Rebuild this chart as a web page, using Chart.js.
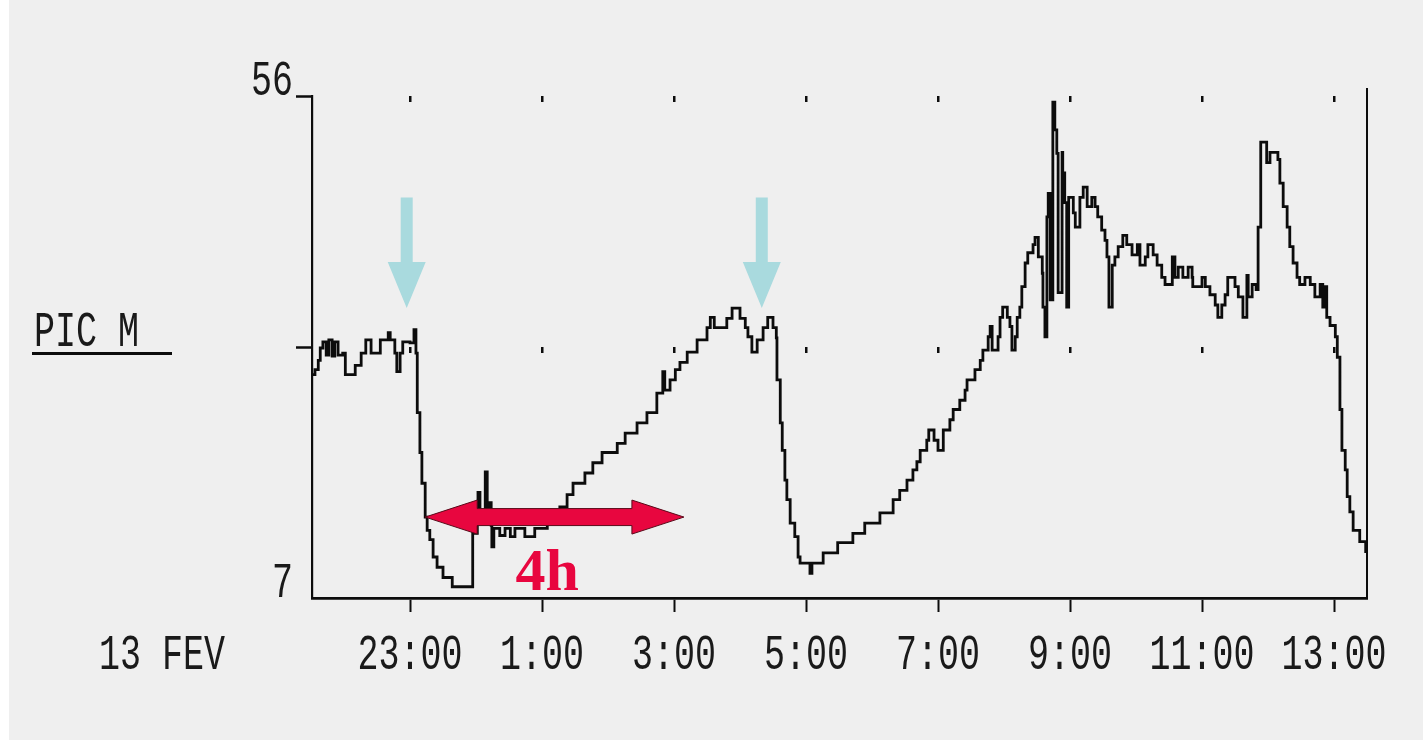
<!DOCTYPE html>
<html>
<head>
<meta charset="utf-8">
<script src="https://cdn.jsdelivr.net/npm/chart.js@4.4.0/dist/chart.umd.min.js"></script>
<style>
  html, body { margin: 0; padding: 0; background: #fff; }
  #wrap { width: 1423px; height: 744px; }
</style>
</head>
<body>
<div id="wrap"><canvas id="chart"></canvas></div>
<script>
// hours counted from midnight of 13 FEV (25 = 1:00 on the next day)
const hours = [
  21.52, 21.56, 21.61, 21.64, 21.68, 21.73, 21.77, 21.82, 21.86, 21.91, 21.98, 22.02, 22.17,
  22.26, 22.33, 22.41, 22.55, 22.67, 22.70, 22.77, 22.80, 22.85, 22.89, 23.00, 23.06, 23.09,
  23.11, 23.15, 23.18, 23.23, 23.26, 23.30, 23.35, 23.41, 23.50, 23.64, 23.95, 24.02, 24.03,
  24.06, 24.14, 24.17, 24.20, 24.23, 24.24, 24.27, 24.36, 24.44, 24.52, 24.59, 24.74, 24.89, 25.08,
  25.27, 25.38, 25.47, 25.65, 25.77, 25.91, 26.14, 26.26, 26.44, 26.59, 26.74, 26.83, 26.86,
  26.94, 27.02, 27.09, 27.20, 27.35, 27.50, 27.55, 27.61, 27.80, 27.88, 28.00, 28.08, 28.12,
  28.18, 28.26, 28.35, 28.42, 28.50, 28.55,
  28.56, 28.61, 28.64, 28.68, 28.71, 28.76, 28.83, 28.88, 28.91, 29.06, 29.09, 29.26, 29.48,
  29.71, 29.89, 30.12, 30.32, 30.42, 30.53, 30.62, 30.68, 30.73, 30.83, 30.86, 30.94, 31.00,
  31.08, 31.18, 31.23, 31.33, 31.41, 31.44, 31.56, 31.64, 31.68, 31.76, 31.79, 31.82, 31.91,
  31.94, 31.98, 32.05, 32.09, 32.12, 32.17, 32.20, 32.24, 32.27, 32.32, 32.36, 32.44, 32.47,
  32.52, 32.58, 32.59, 32.62,
  32.65, 32.67, 32.70, 32.74, 32.77, 32.80, 32.82, 32.88, 32.89, 32.92, 32.95, 32.98, 33.05,
  33.08, 33.15, 33.20, 33.26, 33.33, 33.38, 33.42, 33.48, 33.53, 33.56, 33.59, 33.64, 33.68,
  33.73, 33.80, 33.86, 33.94, 34.02, 34.06, 34.14, 34.18, 34.26, 34.32, 34.39, 34.44, 34.55,
  34.59, 34.64, 34.71, 34.79, 34.85, 34.86, 35.00, 35.05, 35.12, 35.20, 35.24, 35.30, 35.35,
  35.39, 35.50, 35.55, 35.62, 35.68, 35.70, 35.76, 35.82,
  35.85, 35.89, 35.98, 36.03, 36.15, 36.18, 36.23, 36.29, 36.33, 36.38, 36.44, 36.48, 36.56,
  36.64, 36.71, 36.79, 36.83, 36.86, 36.89, 36.94, 37.02, 37.05, 37.09, 37.12, 37.17, 37.20,
  37.24, 37.29, 37.39, 37.48
];
const picM = [
  28.8, 29.3, 30.2, 31.4, 32.0, 30.7, 32.2, 30.6, 32.0, 30.7, 30.9, 28.8, 29.7,
  30.9, 32.2, 30.9, 32.2, 32.9, 32.2, 30.9, 29.1, 30.9, 32.0, 31.9, 33.2, 30.9,
  25.1, 21.2, 18.2, 14.9, 13.6, 12.7, 11.0, 10.0, 9.0, 8.1, 13.3, 14.6, 17.3,
  14.6, 19.3, 15.1, 16.3, 14.1, 12.0, 13.8, 13.1, 13.8, 13.0, 13.8, 13.0, 13.8, 14.6,
  15.9, 17.1, 18.2, 19.2, 20.2, 21.2, 22.1, 23.1, 24.1, 25.1, 27.0, 29.1, 27.3,
  28.3, 29.3, 30.0, 31.0, 32.2, 33.4, 34.4, 33.4, 34.3, 35.3, 34.3, 33.4, 32.5,
  31.0, 32.2, 33.4, 34.4, 33.4, 32.4,
  28.3, 24.1, 21.4, 18.5, 16.6, 14.3, 13.0, 11.0, 10.4, 9.4, 10.4, 11.4, 12.4,
  13.3, 14.3, 15.3, 16.6, 17.5, 18.5, 19.5, 20.3, 21.4, 22.4, 23.4, 22.4, 21.4,
  23.4, 24.4, 25.4, 26.3, 27.3, 28.3, 29.3, 30.2, 31.2, 32.5, 33.5, 31.2, 32.5,
  34.4, 35.4, 34.4, 33.5, 31.2, 32.5, 34.4, 35.4, 37.4, 39.7, 40.7, 41.5, 42.2,
  40.3, 38.7, 35.4, 32.5,
  44.2, 46.5, 36.1, 55.4, 52.7, 50.4, 36.8, 50.5, 48.5, 45.6, 35.4, 46.1, 44.6,
  43.2, 46.1, 47.1, 45.2, 46.1, 45.2, 44.2, 42.9, 41.9, 40.3, 35.4, 39.5, 40.3,
  41.3, 42.4, 41.5, 40.5, 41.5, 39.5, 40.3, 41.5, 40.5, 39.5, 38.3, 37.6, 40.3,
  38.3, 39.3, 38.3, 39.3, 38.3, 37.4, 38.3, 37.4, 36.6, 35.6, 34.4, 35.6, 36.6,
  38.3, 37.4, 36.4, 34.4, 38.5, 36.4, 37.6, 37.1,
  43.2, 51.5, 49.5, 50.5, 49.8, 47.5, 45.2, 43.2, 41.3, 39.7, 38.3, 37.6, 38.3,
  37.6, 36.4, 37.6, 35.4, 37.4, 34.4, 33.6, 32.5, 30.5, 25.4, 21.4, 19.5, 16.9,
  15.4, 13.6, 12.5, 11.4
];

const xTicks = [23, 25, 27, 29, 31, 33, 35, 37];
const xTickLabels = ['23:00', '1:00', '3:00', '5:00', '7:00', '9:00', '11:00', '13:00'];
const yTicks = [31.5, 56];
const yTickLabels = ['7', '56'];
const yLabelValues = [7, 56];
const dateLabel = '13 FEV';
const seriesLabel = 'PIC M';

// annotations (data units)
const blueArrowHours = [22.95, 28.33];
const blueArrowLevels = [46.1, 39.8, 35.3]; // top, neck, tip
const spanArrow = [23.23, 27.15, 14.9];     // from, to, level
const spanText = '4h';
const spanTextPos = [25.08, 7.8];

const INK = '#0c0c0c';
const MONO = '"Liberation Mono", "DejaVu Sans Mono", monospace';

function tallText(ctx, text, x, y, align) {
  ctx.save();
  ctx.translate(x, y);
  ctx.scale(1, 1.42);
  ctx.font = '35px ' + MONO;
  ctx.textAlign = align;
  ctx.textBaseline = 'alphabetic';
  ctx.fillStyle = '#1a1a1a';
  ctx.fillText(text, 0, 0);
  ctx.restore();
}

const paper = {
  id: 'paper',
  beforeDraw(chart) {
    const ctx = chart.ctx;
    ctx.save();
    ctx.fillStyle = '#fff';
    ctx.fillRect(0, 0, chart.width, chart.height);
    ctx.fillStyle = '#efefef';
    ctx.fillRect(9, 0, chart.width - 9, chart.height - 4);
    ctx.restore();
  }
};

const decorations = {
  id: 'decorations',
  beforeDatasetsDraw(chart) {
    const { ctx, chartArea, scales: { x, y } } = chart;
    ctx.save();
    ctx.fillStyle = INK;
    // dotted grid marks at each hour tick
    xTicks.forEach(t => {
      yTicks.forEach(v => {
        ctx.fillRect(x.getPixelForValue(t) - 1, y.getPixelForValue(v), 2.5, 6);
      });
    });
    // right frame line runs a little above the plot top
    ctx.fillRect(chartArea.right - 1, chartArea.top - 8, 2, 10);
    ctx.restore();
  },
  afterDatasetsDraw(chart) {
    const { ctx, scales: { x, y } } = chart;
    ctx.save();
    // blue arrows
    ctx.fillStyle = '#a9dade';
    blueArrowHours.forEach(h => {
      const cx = x.getPixelForValue(h);
      const top = y.getPixelForValue(blueArrowLevels[0]);
      const neck = y.getPixelForValue(blueArrowLevels[1]);
      const tip = y.getPixelForValue(blueArrowLevels[2]);
      ctx.beginPath();
      ctx.moveTo(cx - 6, top);
      ctx.lineTo(cx + 6, top);
      ctx.lineTo(cx + 6, neck);
      ctx.lineTo(cx + 19, neck);
      ctx.lineTo(cx, tip);
      ctx.lineTo(cx - 19, neck);
      ctx.lineTo(cx - 6, neck);
      ctx.closePath();
      ctx.fill();
    });

    // red double arrow
    const x0 = x.getPixelForValue(spanArrow[0]);
    const x1 = x.getPixelForValue(spanArrow[1]);
    const cy = y.getPixelForValue(spanArrow[2]);
    const hl = 52, hh = 17, sh = 8.5;
    ctx.beginPath();
    ctx.moveTo(x0, cy);
    ctx.lineTo(x0 + hl, cy - hh);
    ctx.lineTo(x0 + hl, cy - sh);
    ctx.lineTo(x1 - hl, cy - sh);
    ctx.lineTo(x1 - hl, cy - hh);
    ctx.lineTo(x1, cy);
    ctx.lineTo(x1 - hl, cy + hh);
    ctx.lineTo(x1 - hl, cy + sh);
    ctx.lineTo(x0 + hl, cy + sh);
    ctx.lineTo(x0 + hl, cy + hh);
    ctx.closePath();
    ctx.fillStyle = '#e8063f';
    ctx.fill();
    ctx.lineWidth = 1;
    ctx.strokeStyle = '#5a0a1a';
    ctx.stroke();

    ctx.font = 'bold 60px "Liberation Serif", "DejaVu Serif", serif';
    ctx.textAlign = 'center';
    ctx.textBaseline = 'alphabetic';
    ctx.fillStyle = '#e8063f';
    ctx.fillText(spanText, x.getPixelForValue(spanTextPos[0]), y.getPixelForValue(spanTextPos[1]));
    ctx.restore();
  },
  afterDraw(chart) {
    const { ctx, scales: { x, y } } = chart;
    xTicks.forEach((t, i) => tallText(ctx, xTickLabels[i], x.getPixelForValue(t), 669, 'center'));
    tallText(ctx, dateLabel, 99, 669, 'left');
    yLabelValues.forEach((v, i) => tallText(ctx, yTickLabels[i], 293, y.getPixelForValue(v) - 1, 'right'));
    tallText(ctx, seriesLabel, 34, 346, 'left');
    ctx.save();
    ctx.fillStyle = INK;
    ctx.fillRect(32, 352, 140, 3);
    ctx.restore();
  }
};

new Chart(document.getElementById('chart'), {
  type: 'line',
  data: {
    datasets: [{
      label: seriesLabel,
      data: hours.map((h, i) => ({ x: h, y: picM[i] })),
      stepped: true,
      borderColor: INK,
      borderWidth: 2.8,
      pointRadius: 0,
      fill: false
    }]
  },
  options: {
    responsive: true,
    maintainAspectRatio: false,
    animation: false,
    layout: { padding: { top: 96, right: 56, left: 0, bottom: 0 } },
    plugins: { legend: { display: false }, tooltip: { enabled: false } },
    scales: {
      x: {
        type: 'linear',
        min: 21.515,
        max: 37.5,
        afterBuildTicks: s => { s.ticks = xTicks.map(v => ({ value: v })); },
        afterFit: s => { s.height = 146; },
        ticks: { autoSkip: false, callback: () => '', font: { size: 1 } },
        grid: { drawOnChartArea: false, drawTicks: true, tickLength: 14, tickWidth: 2, tickColor: INK },
        border: { display: true, color: INK, width: 2.8 }
      },
      y: {
        min: 7,
        max: 56,
        afterBuildTicks: s => { s.ticks = yTicks.map(v => ({ value: v })); },
        afterFit: s => { s.width = 312; },
        ticks: { callback: () => '', font: { size: 1 } },
        grid: { drawOnChartArea: false, drawTicks: true, tickLength: 16, tickWidth: 2.5, tickColor: INK },
        border: { display: true, color: INK, width: 2.2 }
      },
      y2: {
        position: 'right',
        min: 7,
        max: 56,
        afterFit: s => { s.width = 0; },
        ticks: { display: false },
        grid: { display: false },
        border: { display: true, color: INK, width: 2 }
      }
    }
  },
  plugins: [paper, decorations]
});
</script>
</body>
</html>
